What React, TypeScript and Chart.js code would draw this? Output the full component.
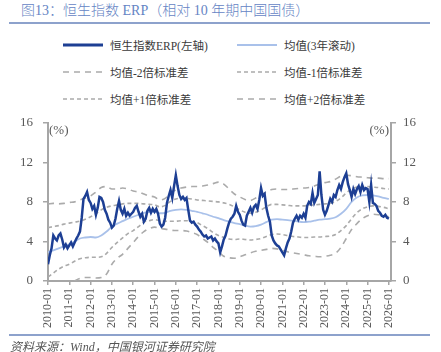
import React, { useEffect, useRef } from "react";
import { Chart, registerables } from "chart.js";

Chart.register(...registerables);

// ---------------- data ----------------
const xTickYears = [2010, 2011, 2012, 2013, 2014, 2015, 2016, 2017, 2018, 2019, 2020, 2021, 2022, 2023, 2024, 2025, 2026];
const yTickValues = [0, 4, 8, 12, 16];

// HSI ERP, monthly from 2010-01 to 2026-01 (%)
const erpStartYear = 2010;
const erpMonthly = [
  1.7, 2.6, 3.3, 4.6, 4.3, 4.1, 4.6, 4.8, 4.2, 3.4, 3.7, 3.3,
  3.6, 3.9, 3.5, 3.9, 4.3, 4.6, 5.0, 6.4, 8.3, 8.6, 9.0, 8.2,
  7.9, 7.3, 7.6, 6.7, 7.4, 8.5, 8.4, 8.0, 7.2, 6.8, 6.2, 5.9,
  5.4, 5.6, 6.3, 7.3, 8.1, 7.2, 6.8, 7.3, 6.6, 6.9, 6.6, 6.8,
  7.0, 7.4, 7.6, 7.0, 6.5, 6.8, 6.0, 6.3, 7.1, 7.4, 6.9, 7.3,
  7.0, 7.3, 6.8, 5.8, 5.5, 5.7, 6.4, 7.9, 8.6, 9.2, 8.4, 9.6,
  10.7, 9.6, 8.7, 8.3, 8.5, 8.2, 8.4, 7.2, 6.1, 5.9, 6.0, 5.7,
  5.5, 5.2, 5.0, 4.7, 4.5, 4.6, 4.3, 4.4, 4.5, 4.1, 4.3, 4.0,
  3.8, 2.9, 3.5, 4.2, 4.6, 5.3, 5.9, 6.3, 6.5, 6.8, 7.6, 7.0,
  6.7, 6.1, 5.7, 5.6, 6.6, 7.0, 7.4, 6.9, 7.5, 7.7, 7.3, 8.2,
  9.4, 8.6, 8.8, 7.4, 6.6, 6.0, 4.6, 4.1, 3.8, 3.6, 3.5, 3.2,
  2.9, 2.6, 3.3, 3.9, 4.3, 5.0, 5.9, 6.3, 6.6, 6.2, 6.6, 6.4,
  6.8, 6.4, 7.6, 8.0, 7.8, 8.9, 7.9, 8.3, 8.7, 11.1, 8.7, 7.2,
  6.7, 7.1, 7.7, 8.3, 8.0, 8.7, 8.5, 9.2, 9.7, 9.3, 10.0, 10.5,
  10.9, 9.8, 9.2, 8.5, 9.3, 8.8, 9.3, 9.6, 9.0, 9.7, 9.2, 9.4,
  9.3, 8.0, 9.7, 7.9, 7.8, 7.6, 7.1, 6.9, 6.6, 6.5, 6.7, 6.4,
  6.3,
];

// Rolling 3y statistics, quarterly from 2010Q1 to 2026Q1
const bandStartYear = 2010;
const mean3y = [
  2.9, 3.1, 3.3, 3.5, 3.7, 4.0, 4.3, 4.4, 4.45, 4.4, 4.6, 5.0,
  5.5, 5.8, 6.05, 6.3, 6.5, 6.7, 6.9, 7.0, 7.0, 6.85, 6.9, 7.1,
  7.2, 7.25, 7.2, 7.1, 7.0, 6.85, 6.7, 6.5, 6.35, 6.15, 6.0, 5.85,
  5.75, 5.6, 5.5, 5.55, 5.7, 5.95, 6.2, 6.25, 6.2, 6.15, 6.1, 6.0,
  5.95, 6.0, 6.1, 6.2, 6.25, 6.3, 6.45, 6.8, 7.3, 8.0, 8.45, 8.65,
  8.7, 8.65, 8.55, 8.4, 8.3,
];
const plus1Sd = [
  5.4, 5.5, 5.6, 5.75, 5.85, 5.95, 6.05, 6.25, 6.5, 6.8, 7.2, 7.45,
  7.6, 7.7, 7.8, 7.85, 7.85, 7.85, 7.8, 7.75, 7.7, 7.5, 7.65, 8.05,
  8.3, 8.35, 8.35, 8.3, 8.2, 8.15, 8.1, 8.05, 8.0, 7.9, 7.75, 7.5,
  7.2, 6.95, 6.85, 6.95, 7.2, 7.5, 7.75, 7.75, 7.7, 7.65, 7.6, 7.6,
  7.6, 7.65, 7.7, 7.75, 7.8, 7.85, 8.05, 8.4, 8.9, 9.3, 9.5, 9.55,
  9.55, 9.5, 9.45, 9.35, 9.3,
];
const plus2Sd = [
  7.8, 7.85, 7.8, 7.85, 7.95, 8.0, 8.2, 8.4, 8.6, 9.0, 9.45, 9.55,
  9.3, 9.3, 9.4, 9.3, 9.1, 9.0, 8.8, 8.6, 8.5, 8.2, 8.35, 8.9,
  9.2, 9.4, 9.5, 9.55, 9.55, 9.6, 9.7, 9.85, 10.0, 9.8, 9.3, 8.8,
  8.5, 8.25, 8.15, 8.4, 8.7, 9.0, 9.25, 9.3, 9.25, 9.25, 9.3, 9.35,
  9.4, 9.45, 9.6, 9.8, 9.95, 10.05, 10.3, 10.6, 10.7, 10.65, 10.55, 10.5,
  10.45, 10.4, 10.4, 10.35, 10.35,
];
const minus1Sd = [
  0.4, 0.8, 1.2, 1.5, 1.7, 2.0, 2.25, 2.35, 2.4, 2.4, 2.45, 2.8,
  3.4, 3.9, 4.35, 4.8, 5.1, 5.5, 5.95, 6.1, 6.2, 6.1, 6.05, 6.05,
  6.05, 6.1, 6.1, 6.0, 5.9, 5.6, 5.3, 4.9, 4.6, 4.4, 4.25, 4.2,
  4.25, 4.2, 4.15, 4.2, 4.3, 4.5, 4.7, 4.75, 4.7, 4.6, 4.5, 4.45,
  4.4, 4.4, 4.45, 4.45, 4.5, 4.55, 4.7, 5.1, 5.6, 6.3, 6.9, 7.3,
  7.5, 7.6, 7.55, 7.45, 7.3,
];
const minus2Sd = [
  -2.0, -1.5, -1.0, -0.6, -0.3, 0.0, 0.25, 0.35, 0.35, 0.3, 0.35, 0.7,
  1.7, 2.3, 2.7, 3.3, 3.9, 4.5, 5.0, 5.3, 5.45, 5.3, 5.25, 5.15,
  5.1, 5.1, 5.05, 4.9, 4.7, 4.3, 3.9, 3.4, 3.0, 2.5, 2.35, 2.3,
  2.45, 2.65, 2.85, 3.0, 3.1, 3.2, 3.3, 3.25, 3.1, 2.95, 2.85, 2.75,
  2.65, 2.55, 2.5, 2.45, 2.5, 2.6, 2.8, 3.4, 4.3, 5.2, 5.8, 6.3,
  6.6, 6.75, 6.7, 6.6, 6.5,
];

const titleText = "图13：恒生指数 ERP（相对 10 年期中国国债）";
const sourceText = "资料来源：Wind，中国银河证券研究院";
const legendLabels = [
  "恒生指数ERP(左轴)",
  "均值(3年滚动)",
  "均值-2倍标准差",
  "均值-1倍标准差",
  "均值+1倍标准差",
  "均值+2倍标准差",
];

// ---------------- styles ----------------
const FONT = "'Liberation Serif', 'Noto Sans CJK SC', serif";
const ERP_COLOR = "#1d3f94";
const MEAN_COLOR = "#a9c1ea";
const BAND_COLOR = "#ababab";
const AXIS_COLOR = "#a6a6a6";
const TICK_TEXT = "#595959";
const ACCENT = "#8da2cc";
const DASH_1 = [4, 3];
const DASH_2 = [6, 5];

const monthly = (arr: number[], start: number) => arr.map((v, i) => ({ x: start + i / 12, y: v }));
const quarterly = (arr: number[], start: number) => arr.map((v, i) => ({ x: start + i / 4, y: v }));

const unitPlugin = {
  id: "unitLabels",
  afterDraw(chart: any) {
    const { ctx, chartArea } = chart;
    ctx.save();
    ctx.font = `13px ${FONT}`;
    ctx.fillStyle = TICK_TEXT;
    ctx.textBaseline = "middle";
    ctx.textAlign = "left";
    ctx.fillText("(%)", chartArea.left + 1, chartArea.top + 8);
    ctx.textAlign = "right";
    ctx.fillText("(%)", chartArea.right - 2, chartArea.top + 8);
    ctx.restore();
  },
};

function LegendItem({ label, color, dash, width }: { label: string; color: string; dash?: number[]; width: number }) {
  return (
    <div style={{ display: "flex", alignItems: "center", height: 16 }}>
      <svg width={40} height={8} style={{ display: "block" }}>
        <line
          x1={0}
          y1={4}
          x2={40}
          y2={4}
          stroke={color}
          strokeWidth={width}
          strokeDasharray={dash ? dash.join(",") : undefined}
        />
      </svg>
      <span style={{ marginLeft: 7, fontSize: 11.5, color: "#3a3a3a", whiteSpace: "nowrap" }}>{label}</span>
    </div>
  );
}

export default function App() {
  const canvasRef = useRef<HTMLCanvasElement | null>(null);

  useEffect(() => {
    if (!canvasRef.current) return;
    const yScaleCommon = {
      type: "linear" as const,
      min: 0,
      max: 16,
      afterBuildTicks: (s: any) => {
        s.ticks = yTickValues.map((v) => ({ value: v }));
      },
      grid: { display: true, drawOnChartArea: false, drawTicks: true, tickLength: 5, color: AXIS_COLOR, lineWidth: 1.5 },
      border: { display: true, color: AXIS_COLOR, width: 2 },
    };
    const chart = new Chart(canvasRef.current, {
      type: "line",
      data: {
        datasets: [
          {
            label: legendLabels[0],
            data: monthly(erpMonthly, erpStartYear),
            borderColor: ERP_COLOR,
            borderWidth: 2.5,
            pointRadius: 0,
            tension: 0,
            yAxisID: "y",
          },
          {
            label: legendLabels[1],
            data: quarterly(mean3y, bandStartYear),
            borderColor: MEAN_COLOR,
            borderWidth: 1.8,
            pointRadius: 0,
            cubicInterpolationMode: "monotone",
            yAxisID: "y",
          },
          {
            label: legendLabels[2],
            data: quarterly(minus2Sd, bandStartYear),
            borderColor: BAND_COLOR,
            borderWidth: 1.6,
            borderDash: DASH_2,
            pointRadius: 0,
            cubicInterpolationMode: "monotone",
            yAxisID: "y",
          },
          {
            label: legendLabels[3],
            data: quarterly(minus1Sd, bandStartYear),
            borderColor: BAND_COLOR,
            borderWidth: 1.6,
            borderDash: DASH_1,
            pointRadius: 0,
            cubicInterpolationMode: "monotone",
            yAxisID: "y",
          },
          {
            label: legendLabels[4],
            data: quarterly(plus1Sd, bandStartYear),
            borderColor: BAND_COLOR,
            borderWidth: 1.6,
            borderDash: DASH_1,
            pointRadius: 0,
            cubicInterpolationMode: "monotone",
            yAxisID: "y",
          },
          {
            label: legendLabels[5],
            data: quarterly(plus2Sd, bandStartYear),
            borderColor: BAND_COLOR,
            borderWidth: 1.6,
            borderDash: DASH_2,
            pointRadius: 0,
            cubicInterpolationMode: "monotone",
            yAxisID: "y",
          },
        ],
      },
      options: {
        animation: false,
        responsive: false,
        devicePixelRatio: 1,
        layout: { padding: { top: 10, left: 0, right: 0, bottom: 0 } },
        plugins: { legend: { display: false }, tooltip: { enabled: false } },
        font: { family: FONT },
        scales: {
          x: {
            type: "linear",
            min: 2010,
            max: 2026.1,
            afterBuildTicks: (s: any) => {
              s.ticks = xTickYears.map((v) => ({ value: v }));
            },
            afterFit: (s: any) => {
              s.height = 54;
            },
            ticks: {
              minRotation: 90,
              maxRotation: 90,
              padding: 3,
              color: TICK_TEXT,
              font: { family: FONT, size: 12 },
              callback: (v: any) => `${v}-01`,
            },
            grid: { display: true, drawOnChartArea: false, drawTicks: true, tickLength: 4, color: AXIS_COLOR, lineWidth: 1.5 },
            border: { display: true, color: AXIS_COLOR, width: 2 },
          },
          y: {
            ...yScaleCommon,
            position: "left",
            afterFit: (s: any) => {
              s.width = 48;
            },
            ticks: { padding: 10, color: TICK_TEXT, font: { family: FONT, size: 13 } },
          },
          y2: {
            ...yScaleCommon,
            position: "right",
            afterFit: (s: any) => {
              s.width = 50;
            },
            ticks: { padding: 7, color: TICK_TEXT, font: { family: FONT, size: 13 } },
          },
        },
      } as any,
      plugins: [unitPlugin],
    });
    return () => chart.destroy();
  }, []);

  return (
    <div style={{ position: "absolute", left: 0, top: 0, width: 441, height: 352, overflow: "hidden", background: "#fff", fontFamily: FONT }}>
      <div style={{ position: "absolute", left: 21, top: 2, fontSize: 14, fontWeight: 300, color: "#6584c4", whiteSpace: "nowrap", lineHeight: "18px" }}>
        {titleText}
      </div>
      <div style={{ position: "absolute", left: 9, top: 22, width: 421, height: 2, background: ACCENT }} />

      <div style={{ position: "absolute", left: 63, top: 37 }}>
        <LegendItem label={legendLabels[0]} color={ERP_COLOR} width={3} />
      </div>
      <div style={{ position: "absolute", left: 237, top: 37 }}>
        <LegendItem label={legendLabels[1]} color={MEAN_COLOR} width={2} />
      </div>
      <div style={{ position: "absolute", left: 63, top: 64 }}>
        <LegendItem label={legendLabels[2]} color={BAND_COLOR} width={1.6} dash={DASH_2} />
      </div>
      <div style={{ position: "absolute", left: 237, top: 64 }}>
        <LegendItem label={legendLabels[3]} color={BAND_COLOR} width={1.6} dash={DASH_1} />
      </div>
      <div style={{ position: "absolute", left: 63, top: 91 }}>
        <LegendItem label={legendLabels[4]} color={BAND_COLOR} width={1.6} dash={DASH_1} />
      </div>
      <div style={{ position: "absolute", left: 237, top: 91 }}>
        <LegendItem label={legendLabels[5]} color={BAND_COLOR} width={1.6} dash={DASH_2} />
      </div>

      <canvas
        ref={canvasRef}
        width={441}
        height={230}
        style={{ position: "absolute", left: 0, top: 105, width: 441, height: 230, display: "block" }}
      />

      <div style={{ position: "absolute", left: 9, top: 334, width: 421, height: 2, background: ACCENT }} />
      <div style={{ position: "absolute", left: 10, top: 339, fontSize: 12, fontStyle: "italic", color: "#555", whiteSpace: "nowrap", lineHeight: "16px" }}>
        {sourceText}
      </div>
    </div>
  );
}
